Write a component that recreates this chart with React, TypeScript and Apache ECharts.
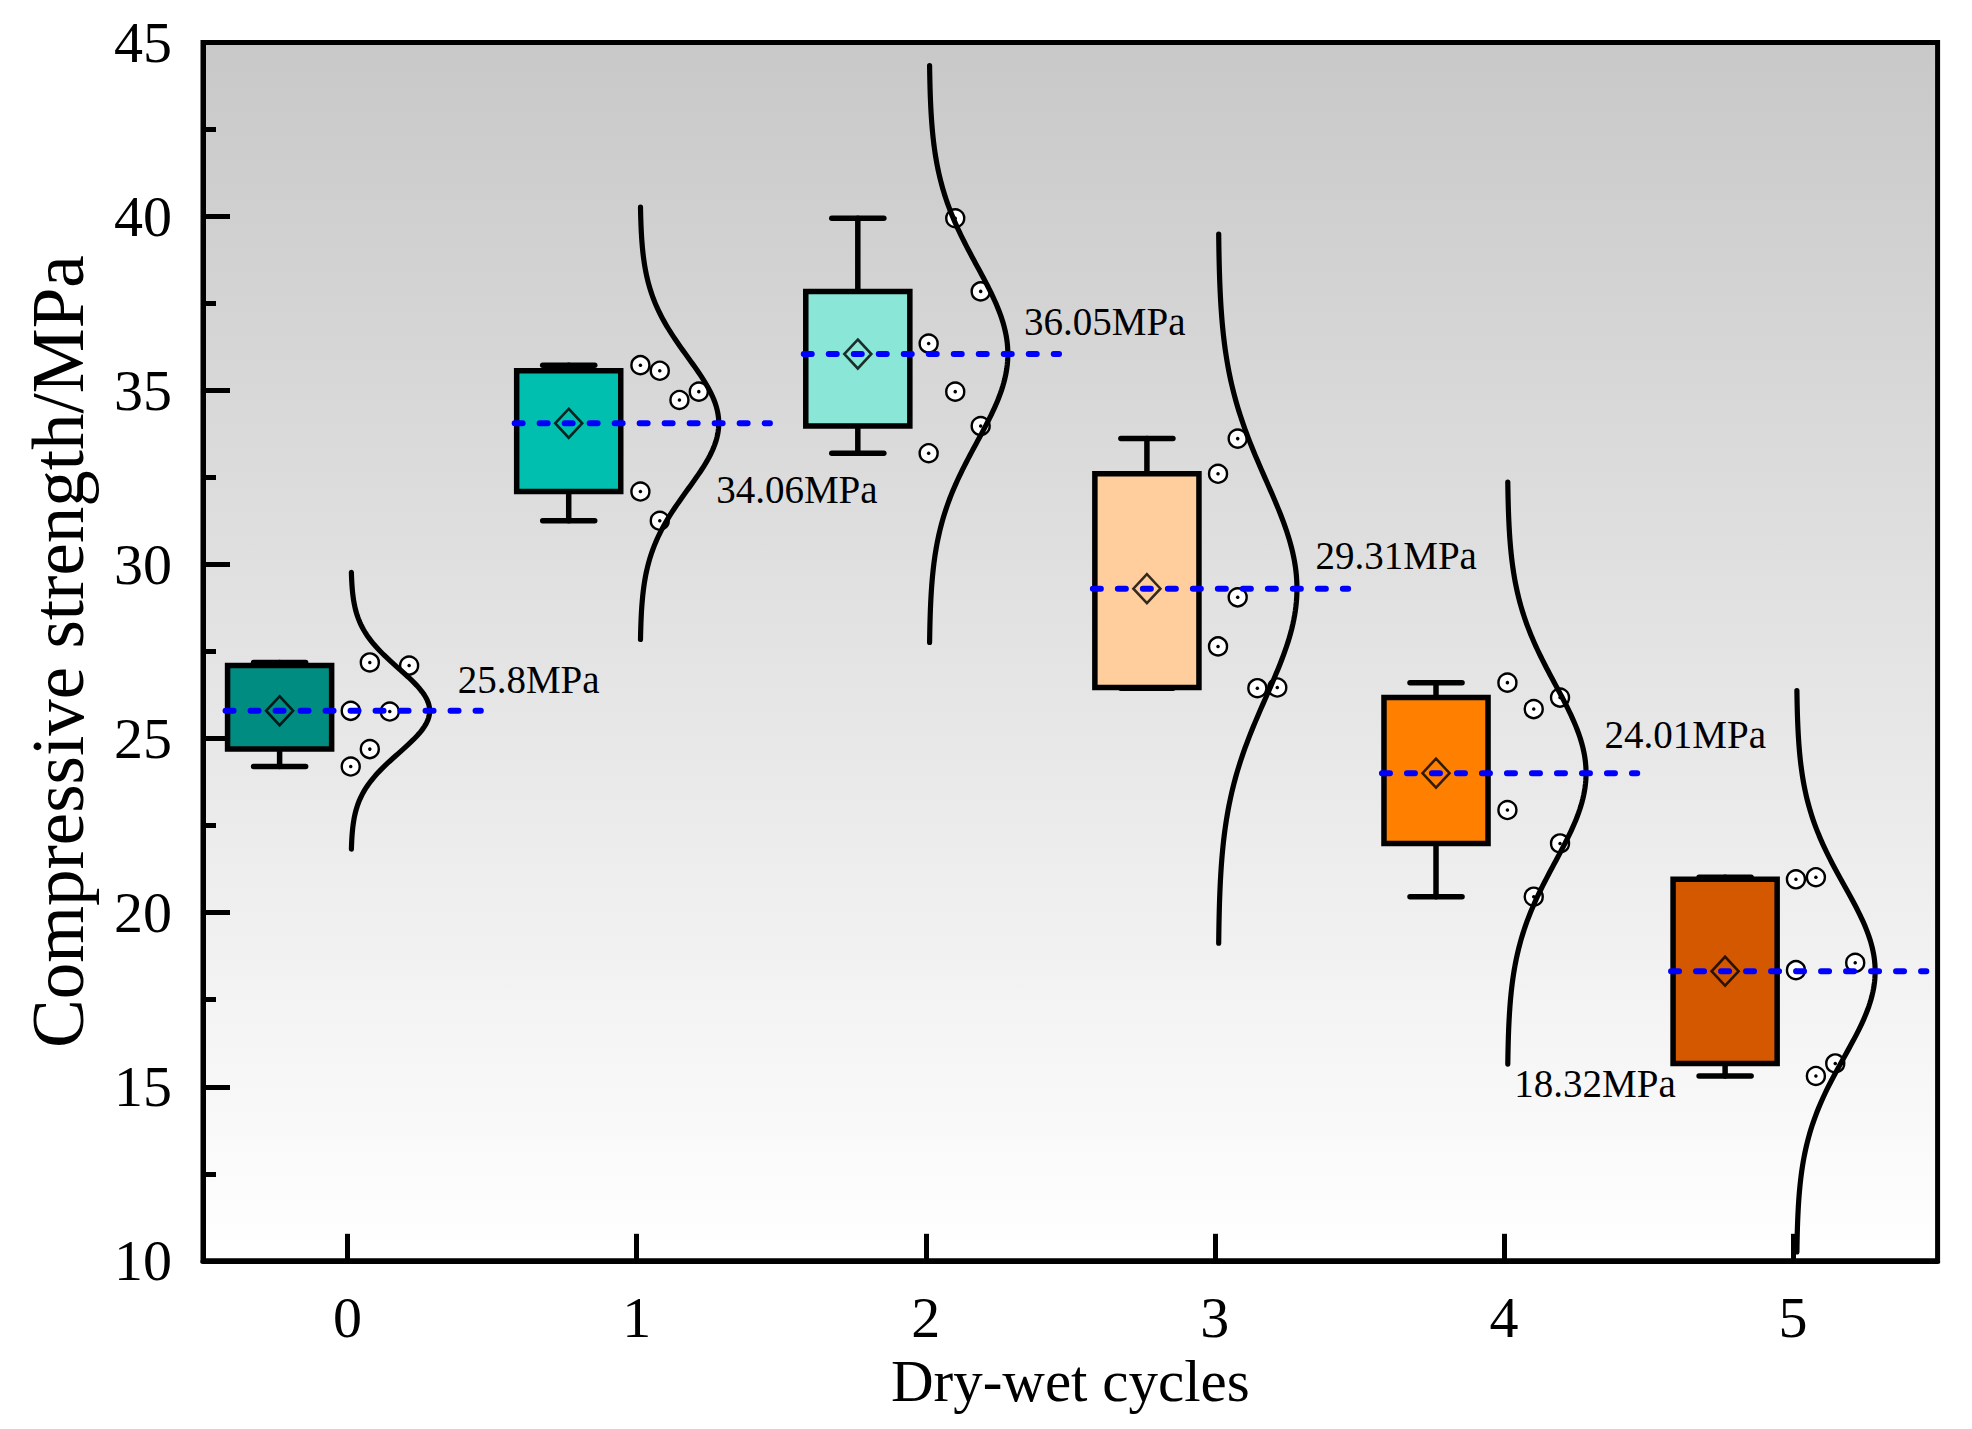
import React, { useEffect, useRef } from "react";
import * as echarts from "echarts";

// ---------- data ----------
const cycles = [0, 1, 2, 3, 4, 5];
const meanStrength = [25.8, 34.06, 36.05, 29.31, 24.01, 18.32];

const strength0 = [27.19, 27.1, 25.8, 25.78, 24.7, 24.2];
const strength1 = [35.73, 35.57, 34.97, 34.73, 32.1, 31.26];
const strength2 = [39.95, 37.85, 36.35, 34.97, 33.98, 33.2];
const strength3 = [33.62, 32.61, 29.06, 27.65, 26.45, 26.47];
const strength4 = [26.61, 26.18, 25.85, 22.95, 21.99, 20.46];
const strength5 = [20.96, 21.02, 18.35, 18.56, 15.31, 15.67];

// horizontal jitter of each raw point beside its box (x units)
const jitter0 = [0.077, 0.213, 0.011, 0.146, 0.077, 0.011];
const jitter1 = [0.013, 0.08, 0.215, 0.148, 0.013, 0.08];
const jitter2 = [0.102, 0.19, 0.01, 0.102, 0.19, 0.01];
const jitter3 = [0.079, 0.011, 0.079, 0.011, 0.147, 0.216];
const jitter4 = [0.012, 0.194, 0.103, 0.012, 0.194, 0.103];
const jitter5 = [0.01, 0.079, 0.01, 0.215, 0.079, 0.146];

const boxColors = ["#008C80", "#00BFAF", "#8AE6D6", "#FFCE9C", "#FF8000", "#D45800"];

// label anchors relative to each mean line (x offset, y offset)
const labelDx = [0.381, 0.275, 0.34, 0.348, 0.348, -0.964];
const labelDy = [0.91, -1.89, 0.93, 0.94, 1.1, -3.22];

const allStrength = [strength0, strength1, strength2, strength3, strength4, strength5];
const allJitter = [jitter0, jitter1, jitter2, jitter3, jitter4, jitter5];

// ---------- layout constants ----------
const FONT = "'Liberation Serif', 'Times New Roman', serif";
const BOX_SHIFT = -0.235;
const BOX_HALF = 0.18;
const CAP_HALF = 0.09;
const CURVE_BASE = 0.012;
const CURVE_WIDTH = 0.272;
const CURVE_SPAN = 3.27;
const LINE_FROM = -0.422;
const LINE_TO = 0.461;
const STROKE = 5.5;

function sampleSd(v: number[]): number {
  const m = v.reduce((a, b) => a + b, 0) / v.length;
  const ss = v.reduce((a, b) => a + (b - m) * (b - m), 0);
  return Math.sqrt(ss / (v.length - 1));
}

export default function App() {
  const ref = useRef<HTMLDivElement>(null);

  useEffect(() => {
    if (!ref.current) return;
    const chart = echarts.init(ref.current, undefined, { renderer: "svg" });

    const boxData = cycles.map((c, i) => {
      const s = [...allStrength[i]].sort((a, b) => a - b);
      return [c, s[0], s[1], s[s.length - 2], s[s.length - 1]];
    });

    const pointData: number[][] = [];
    cycles.forEach((c, i) => {
      allStrength[i].forEach((v, j) => pointData.push([c + allJitter[i][j], v]));
    });

    const curveSeries = cycles.map((c, i) => {
      const sd = sampleSd(allStrength[i]);
      const m = meanStrength[i];
      const pts: number[][] = [];
      const N = 160;
      for (let k = 0; k <= N; k++) {
        const t = -CURVE_SPAN + (2 * CURVE_SPAN * k) / N;
        pts.push([c + CURVE_BASE + CURVE_WIDTH * Math.exp(-t * t / 2), m + t * sd]);
      }
      return {
        type: "line",
        data: pts,
        showSymbol: false,
        symbol: "none",
        smooth: false,
        lineStyle: { color: "#000", width: 5.2, cap: "round", join: "round" },
        z: 4,
        silent: true,
      };
    });

    const meanLineSeries = cycles.map((c, i) => ({
      type: "line",
      data: [
        [c + LINE_FROM, meanStrength[i]],
        [c + LINE_TO, meanStrength[i]],
      ],
      showSymbol: false,
      symbol: "none",
      lineStyle: { color: "#0000FF", width: 6, type: [8, 17], cap: "round" },
      z: 6,
      silent: true,
    }));

    const option: any = {
      animation: false,
      backgroundColor: "#ffffff",
      grid: {
        left: 203,
        right: 34.4,
        top: 42.5,
        bottom: 168.2,
        show: true,
        borderColor: "#000",
        borderWidth: 5,
        backgroundColor: new echarts.graphic.LinearGradient(0, 0, 0, 1, [
          { offset: 0, color: "#C8C8C8" },
          { offset: 1, color: "#FFFFFF" },
        ]),
      },
      xAxis: {
        type: "value",
        min: -0.5,
        max: 5.5,
        splitNumber: 6,
        name: "Dry-wet cycles",
        nameLocation: "middle",
        nameGap: 88,
        nameTextStyle: { fontFamily: FONT, fontSize: 59, color: "#000" },
        axisLine: { show: true, onZero: false, lineStyle: { color: "#000", width: 5 } },
        axisTick: { show: true, inside: true, length: 27, lineStyle: { color: "#000", width: 5 } },
        axisLabel: {
          showMinLabel: false,
          showMaxLabel: false,
          margin: 28,
          fontFamily: FONT,
          fontSize: 58,
          color: "#000",
          formatter: (v: number) => (Number.isInteger(v) ? String(v) : ""),
        },
        splitLine: { show: false },
      },
      yAxis: {
        type: "value",
        min: 10,
        max: 45,
        interval: 5,
        name: "Compressive strength/MPa",
        nameLocation: "middle",
        nameRotate: 90,
        nameGap: 108,
        nameTextStyle: { fontFamily: FONT, fontSize: 73, color: "#000" },
        axisLine: { show: true, onZero: false, lineStyle: { color: "#000", width: 5 } },
        axisTick: { show: true, inside: true, length: 27, lineStyle: { color: "#000", width: 5 } },
        minorTick: { show: true, splitNumber: 2, length: 13, lineStyle: { color: "#000", width: 5 } },
        axisLabel: { margin: 31, fontFamily: FONT, fontSize: 58, color: "#000" },
        splitLine: { show: false },
        minorSplitLine: { show: false },
      },
      series: [
        {
          type: "custom",
          data: boxData,
          encode: { x: 0, y: [1, 2, 3, 4] },
          z: 2,
          silent: true,
          renderItem: (params: any, api: any) => {
            const x = api.value(0) as number;
            const lo = api.value(1) as number;
            const q1 = api.value(2) as number;
            const q3 = api.value(3) as number;
            const hi = api.value(4) as number;
            const cx = x + BOX_SHIFT;
            const pL = api.coord([cx - BOX_HALF, q3]);
            const pR = api.coord([cx + BOX_HALF, q1]);
            const pHi = api.coord([cx, hi]);
            const pLo = api.coord([cx, lo]);
            const cL = api.coord([cx - CAP_HALF, hi])[0];
            const cR = api.coord([cx + CAP_HALF, hi])[0];
            const st = { stroke: "#000", lineWidth: STROKE, lineCap: "round" };
            return {
              type: "group",
              children: [
                { type: "line", shape: { x1: pHi[0], y1: pHi[1], x2: pHi[0], y2: pL[1] }, style: st },
                { type: "line", shape: { x1: pLo[0], y1: pLo[1], x2: pLo[0], y2: pR[1] }, style: st },
                { type: "line", shape: { x1: cL, y1: pHi[1], x2: cR, y2: pHi[1] }, style: st },
                { type: "line", shape: { x1: cL, y1: pLo[1], x2: cR, y2: pLo[1] }, style: st },
                {
                  type: "rect",
                  shape: { x: pL[0], y: pL[1], width: pR[0] - pL[0], height: pR[1] - pL[1] },
                  style: { fill: boxColors[params.dataIndex], stroke: "#000", lineWidth: STROKE },
                },
              ],
            };
          },
        },
        {
          type: "scatter",
          data: cycles.map((c, i) => [c + BOX_SHIFT, meanStrength[i]]),
          symbol: "diamond",
          symbolSize: [27, 29],
          itemStyle: { color: "rgba(0,0,0,0)", borderColor: "#000", borderWidth: 2.6 },
          z: 3,
          silent: true,
        },
        {
          type: "scatter",
          data: pointData,
          symbol: "circle",
          symbolSize: 18,
          itemStyle: { color: "#fff", borderColor: "#000", borderWidth: 2.4, opacity: 1 },
          z: 3,
          silent: true,
        },
        {
          type: "scatter",
          data: pointData,
          symbol: "circle",
          symbolSize: 3.5,
          itemStyle: { color: "#000", opacity: 1 },
          z: 3,
          silent: true,
        },
        ...curveSeries,
        ...meanLineSeries,
        {
          type: "custom",
          data: cycles.map((c, i) => [c + labelDx[i], meanStrength[i] + labelDy[i], meanStrength[i]]),
          encode: { x: 0, y: 1 },
          z: 7,
          silent: true,
          renderItem: (params: any, api: any) => {
            const p = api.coord([api.value(0), api.value(1)]);
            return {
              type: "text",
              x: p[0],
              y: p[1],
              style: {
                text: `${meanStrength[params.dataIndex]}MPa`,
                fontFamily: FONT,
                fontSize: 39,
                fill: "#000",
                align: "left",
                verticalAlign: "middle",
              },
            };
          },
        },
      ],
    };

    chart.setOption(option);
    return () => chart.dispose();
  }, []);

  return (
    <div
      ref={ref}
      style={{ position: "fixed", left: 0, top: 0, width: 1972, height: 1429, background: "#fff" }}
    />
  );
}
